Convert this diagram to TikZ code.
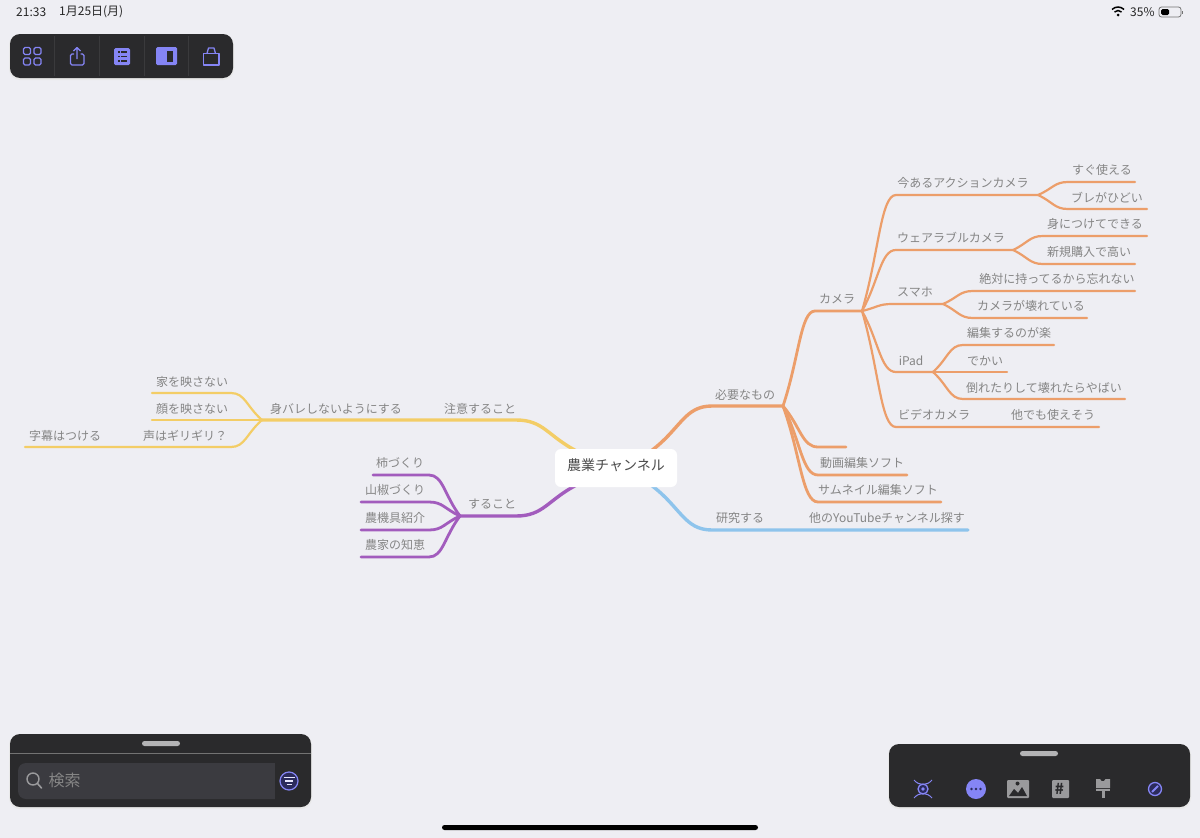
\documentclass[tikz,border=0pt]{standalone}
\usepackage{fontspec}
\setmainfont{Noto Sans CJK JP}
\usetikzlibrary{calc,backgrounds}
\definecolor{paper}{HTML}{EEEEF3}
\definecolor{barbg}{HTML}{2A2A2C}
\definecolor{barline}{HTML}{3A3A3C}
\definecolor{fieldbg}{HTML}{3B3B40}
\definecolor{accent}{HTML}{8585F5}
\definecolor{navy}{HTML}{2B2B5C}
\definecolor{iconGrey}{HTML}{9A9A9C}
\definecolor{txt}{HTML}{858585}
\definecolor{mapOrange}{HTML}{EC9E6A}
\definecolor{mapYellow}{HTML}{F3CD66}
\definecolor{mapPurple}{HTML}{A25CBD}
\definecolor{mapBlue}{HTML}{8EC4EC}
\tikzset{
  x=1pt,y=-1pt,
  lbl/.style={text=txt,font=\fontsize{12}{12}\selectfont,inner sep=0pt,yshift=-.7pt},
  rootbox/.style={fill=white,rounded corners=6pt,minimum width=122pt,minimum height=38pt,inner sep=0pt},
  main/.style={line width=3.4pt,line cap=round,line join=round},
  mid/.style={line width=2.8pt,line cap=round,line join=round},
  thin limb/.style={line width=2.2pt,line cap=round,line join=round},
  panel/.style={fill=barbg,rounded corners=10pt},
  halo/.style={fill=black!9,rounded corners=11pt},
  ico/.style={draw=accent,line width=1.3pt,line join=round},
  icofill/.style={fill=accent,rounded corners=1.5pt},
  status/.style={text=black!85,inner sep=0pt,font=\fontsize{12}{12}\selectfont},
}
% one limb of the map: a swept curve from a fork to an elbow, then a straight run
\newcommand{\sweep}[4]{\draw[#1] (#2) .. controls ($(#2)!.5!(#3)$) and ($(#3)!.45!(#2 |- #3)$) .. (#3) -- (#4);}
\begin{document}
\begin{tikzpicture}
\path[use as bounding box] (0,0) rectangle (1200,838);

% ---- centre node and first-level anchors
\node[rootbox] (root) at (616,468) {};
\node[inner sep=0pt,text=black!70,font=\fontsize{14}{14}\selectfont] (rootlabel) at (616,465.5) {農業チャンネル};
\coordinate (rNE) at ($(root.north)+(34,3)$);
\coordinate (rSE) at ($(root.south)+(34,-3)$);
\coordinate (rNW) at ($(root.north)+(-38,3)$);
\coordinate (rSW) at ($(root.south)+(-38,-3)$);

% ---- fork and elbow points
\foreach \n/\x/\y in {
 eNeed/712/406, fNeed/783/406,
 eCam/815/311, fCam/862/311,
 eBlank/818/447, xBlank/846/447,
 eEdit/818/475, xEdit/907/475,
 eThumb/818/502, xThumb/941/502,
 eAct/896/195, fAct/1038/195,
 eGo/1068/182, xGo/1135/182,
 eShake/1068/209, xShake/1147/209,
 eWear/896/250, fWear/1013/250,
 eOn/1043/236, xOn/1147/236,
 eNew/1043/264, xNew/1135/264,
 ePhone/892/304, fPhone/943/304,
 eAlways/973/291, xAlways/1135/291,
 eBroken/973/318, xBroken/1087/318,
 ePad/896/372, fPad/933/372,
 eEasy/963/345, xEasy/1054/345,
 xBig/1007/372,
 eFall/963/399, xFall/1125/399,
 eVideo/896/427, fVideo/973/427, xVideo/1099/427,
 eStudy/712/530, xStudy/968/530,
 eCare/516/420, fCare/262/420,
 eHome/231/393, xHome/152/393,
 xFace/152/420,
 eVoice/231/447, xVoice/25/447,
 eTodo/516/516, fTodo/460/516,
 ePersim/429/475, xPersim/373/475,
 eSansho/429/502, xSansho/361/502,
 eTools/429/530, xTools/361/530,
 eWisdom/429/557, xWisdom/361/557}
 {\coordinate (\n) at (\x,\y);}

% ---- page colour and limbs sit beneath the centre node
\begin{scope}[on background layer]
\fill[paper] (0,0) rectangle (1200,838);
\begin{scope}[color=mapOrange]
\sweep{main}{rNE}{eNeed}{fNeed}
\sweep{mid}{fNeed}{eCam}{fCam}
\sweep{mid}{fNeed}{eBlank}{xBlank}
\sweep{mid}{fNeed}{eEdit}{xEdit}
\sweep{mid}{fNeed}{eThumb}{xThumb}
\sweep{thin limb}{fCam}{eAct}{fAct}
\sweep{thin limb}{fAct}{eGo}{xGo}
\sweep{thin limb}{fAct}{eShake}{xShake}
\sweep{thin limb}{fCam}{eWear}{fWear}
\sweep{thin limb}{fWear}{eOn}{xOn}
\sweep{thin limb}{fWear}{eNew}{xNew}
\sweep{thin limb}{fCam}{ePhone}{fPhone}
\sweep{thin limb}{fPhone}{eAlways}{xAlways}
\sweep{thin limb}{fPhone}{eBroken}{xBroken}
\sweep{thin limb}{fCam}{ePad}{fPad}
\sweep{thin limb}{fPad}{eEasy}{xEasy}
\draw[thin limb] (fPad) -- (xBig);
\sweep{thin limb}{fPad}{eFall}{xFall}
\sweep{thin limb}{fCam}{eVideo}{xVideo}
\end{scope}
\sweep{main,color=mapBlue}{rSE}{eStudy}{xStudy}
\begin{scope}[color=mapYellow]
\sweep{main}{rNW}{eCare}{fCare}
\sweep{thin limb}{fCare}{eHome}{xHome}
\draw[thin limb] (fCare) -- (xFace);
\sweep{thin limb}{fCare}{eVoice}{xVoice}
\end{scope}
\begin{scope}[color=mapPurple]
\sweep{main}{rSW}{eTodo}{fTodo}
\sweep{mid}{fTodo}{ePersim}{xPersim}
\sweep{mid}{fTodo}{eSansho}{xSansho}
\sweep{mid}{fTodo}{eTools}{xTools}
\sweep{mid}{fTodo}{eWisdom}{xWisdom}
\end{scope}
\end{scope}

% ---- labels
\foreach \n/\x/\y/\t in {
 lNeed/745/394/必要なもの, lCam/837/298/カメラ, lEdit/862/462/動画編集ソフト,
 lThumb/878/489/サムネイル編集ソフト, lAct/963/182/今あるアクションカメラ,
 lGo/1102/169/すぐ使える, lShake/1107/197/ブレがひどい, lWear/951/237/ウェアラブルカメラ,
 lOn/1095/223/身につけてできる, lNew/1089/251/新規購入で高い, lPhone/915/291/スマホ,
 lAlways/1057/278/絶対に持ってるから忘れない, lBroken/1031/305/カメラが壊れている,
 lPad/911/360/iPad, lEasy/1009/332/編集するのが楽, lBig/985/360/でかい,
 lFall/1044/387/倒れたりして壊れたらやばい, lVideo/934/414/ビデオカメラ,
 lOther/1053/414/他でも使えそう, lStudy/740/517/研究する,
 lTube/887/517/他のYouTubeチャンネル探す, lCare/480/408/注意すること,
 lHide/336/408/身バレしないようにする, lHome/192/381/家を映さない,
 lFace/192/408/顔を映さない, lVoice/185/435/声はギリギリ？, lCaption/65/435/字幕はつける,
 lTodo/492/503/すること, lPersim/400/462/柿づくり, lSansho/395/489/山椒づくり,
 lTools/395/517/農機具紹介, lWisdom/395/544/農家の知恵}
 {\node[lbl] (\n) at (\x,\y) {\t};}

% ---- status bar
\node[status,anchor=west] (clock) at (16,12) {21:33};
\node[status,anchor=west] (date) at (59,12) {1月25日(月)};
\node[status,anchor=west] (pct) at (1130,12) {35\%};
\fill[black] (1118,15) circle (1.5);
\draw[black,line width=1.5pt] (1114.5,12) arc[start angle=225,end angle=315,radius=5];
\draw[black,line width=1.5pt] (1112,9.5) arc[start angle=225,end angle=315,radius=8.5];
\draw[black!55,line width=.8pt,rounded corners=2.5pt] (1159,7) rectangle (1181,17);
\fill[black,rounded corners=1.5pt] (1161,9) rectangle (1169,15);
\fill[black!55] (1182,10.5) rectangle (1183,13.5);

% ---- top toolbar
\fill[halo] (9,34) rectangle (234,80);
\fill[panel] (10,34) rectangle (233,78);
\foreach \x in {54,99,144,188} \draw[barline,line width=.6pt] (\x,36) -- (\x,76);
\foreach \x/\y in {23.5/47.5,34/47.5,23.5/58,34/58}
  \draw[ico,rounded corners=1.5pt] (\x,\y) rectangle +(7,7);
\draw[ico,rounded corners=1.5pt] (74,54) -- (70.5,54) -- (70.5,65) -- (84,65) -- (84,54) -- (80.5,54);
\draw[ico] (77,59) -- (77,48) (73.5,51) -- (77,47.5) -- (80.5,51);
\fill[icofill] (114,48) rectangle (130,65);
\foreach \y in {52,56.5,61}{
  \fill[barbg] (118,\y-.8) rectangle (119.6,\y+.8);
  \fill[barbg] (121,\y-.8) rectangle (127,\y+.8);
}
\fill[icofill] (156,47) rectangle (177,65);
\fill[barbg] (167,51) rectangle (173,62);
\draw[ico] (203.5,53.5) rectangle (219,65);
\draw[ico] (207,53.5) -- (208.5,48) -- (214,48) -- (215.5,53.5);

% ---- search panel, lower left
\fill[halo] (9,734) rectangle (312,809);
\fill[panel] (10,734) rectangle (311,807);
\fill[iconGrey!75,rounded corners=2.5pt] (142,741) rectangle (180,746);
\draw[black!55,line width=.6pt] (10,753) -- (311,753);
\fill[fieldbg,rounded corners=8pt] (18,763) rectangle (284,799);
\fill[barbg] (275,762) rectangle (285,800);
\draw[iconGrey,line width=1.4pt] (33,779) circle (6);
\draw[iconGrey,line width=1.6pt,line cap=round] (37.5,783.5) -- (41.5,788);
\node[inner sep=0pt,text=txt,font=\fontsize{16}{16}\selectfont] (searchhint) at (64.5,780) {検索};
\draw[accent,fill=navy,line width=1.2pt] (289,781) circle (9);
\draw[white!80!accent,line width=1.2pt] (283.5,777.5) -- (294.5,777.5) (285,781) -- (293,781) (286.5,784.5) -- (291.5,784.5);

% ---- tool panel, lower right
\fill[halo] (888,744) rectangle (1191,809);
\fill[panel] (889,744) rectangle (1190,807);
\fill[iconGrey!75,rounded corners=2.5pt] (1020,751) rectangle (1058,756);
\draw[ico,fill=navy] (923,789) circle (5);
\fill[accent] (923,789) circle (1.8);
\draw[accent,line width=1pt] (914,780) .. controls (919,786) and (927,786) .. (932,780)
                             (914,798) .. controls (919,792) and (927,792) .. (932,798);
\fill[accent] (976,789) circle (10);
\foreach \x in {971.5,976,980.5} \fill[navy] (\x,789) circle (1.3);
\fill[iconGrey,rounded corners=1pt] (1007,780) rectangle (1029,798);
\fill[barbg] (1017.5,783.5) circle (2);
\fill[barbg] (1009,796) -- (1014,789) -- (1018,793) -- (1022,787) -- (1027,796) -- cycle;
\fill[iconGrey,rounded corners=1pt] (1052,780) rectangle (1069,798);
\node[inner sep=0pt,text=barbg,font=\fontsize{15}{15}\selectfont\bfseries] (hash) at (1059.5,788.5) {\#};
\fill[iconGrey] (1096,779) -- (1100,779) -- (1101.5,781) -- (1104,781) -- (1105.5,779) -- (1110,779)
  -- (1110,788) -- (1096,788) -- cycle;
\fill[iconGrey] (1096,789) rectangle (1110,791);
\fill[iconGrey] (1101.5,791) rectangle (1104.5,798);
\draw[accent,fill=navy,line width=1.3pt] (1155,789) circle (6.5);
\draw[accent,line width=1.8pt] (1152,792) -- (1158,786);

% ---- home indicator
\fill[black,rounded corners=2.5pt] (442,825) rectangle (758,830);
\end{tikzpicture}
\end{document}
